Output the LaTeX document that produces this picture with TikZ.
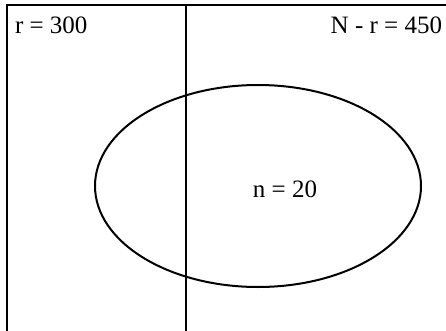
\documentclass[tikz,border=0pt]{standalone}
\usepackage{fontspec}
\setmainfont{Liberation Serif}
\usepackage{tikz}

\begin{document}
\begin{tikzpicture}[
  x=1pt,y=-1pt,
  line width=2pt,
  lbl/.style={inner sep=0pt,font=\fontsize{25}{30}\selectfont}
]
  \useasboundingbox (0,0) rectangle (446,331);
  \coordinate (tl) at (7,5);
  \coordinate (tr) at (446,5);
  \coordinate (bl) at (7,331);
  \coordinate (st) at (186,5);
  \coordinate (sb) at (186,331);
  \draw (bl) -- (tl) -- (tr);
  \draw (st) -- (sb);
  \draw (258,186) ellipse [x radius=163pt, y radius=101pt];
  \node[lbl,anchor=base west] (r) at (14,34) {r = 300};
  \node[lbl,anchor=base east] (nr) at (443,34) {N - r = 450};
  \node[lbl,anchor=base] (n) at (285,197) {n = 20};
\end{tikzpicture}
\end{document}
